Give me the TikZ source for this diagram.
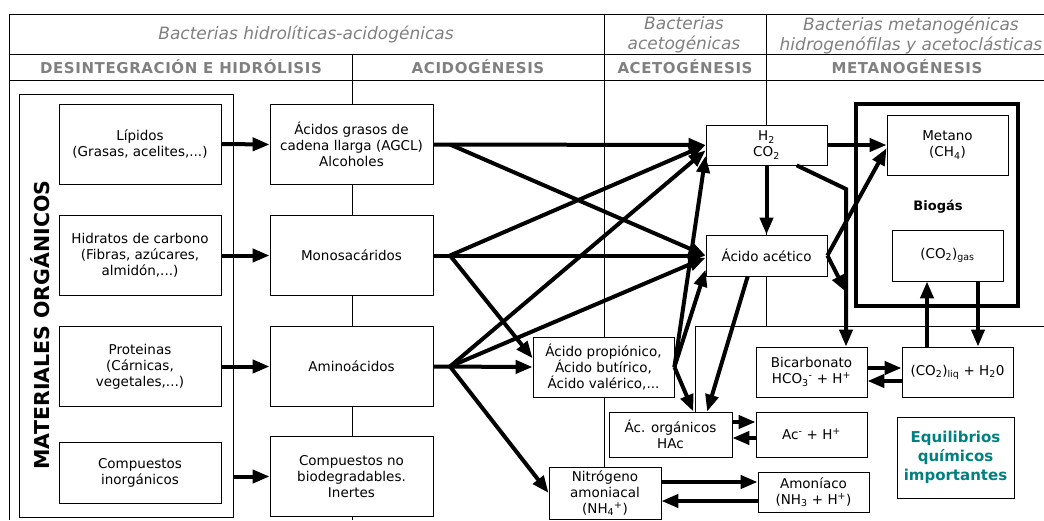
\documentclass[tikz,border=0pt]{standalone}
\usepackage{fontspec}
\setmainfont{DejaVu Sans}
\usetikzlibrary{arrows.meta}
\definecolor{hdrgray}{RGB}{128,128,128}
\definecolor{eqteal}{RGB}{0,128,128}
\tikzset{
  basic/.style = {draw, rectangle, fill=white, line width=0.8pt},
  box/.style = {basic, align=center, inner sep=2pt, font=\fontsize{13.5}{16}\selectfont},
  flow/.style = {line width=4pt, -{Triangle[length=17pt,width=13pt]}},
  grid/.style = {line width=0.9pt},
}

\begin{document}
\begin{tikzpicture}[
  x = 1pt, y = -1pt,
  bact/.style = {font=\fontsize{17}{20}\selectfont\itshape, text=hdrgray, align=center},
  phase/.style = {font=\fontsize{15}{17}\selectfont\bfseries\addfontfeatures{LetterSpace=4}, text=hdrgray},
  col1/.style = {box, minimum width=162pt, minimum height=80pt},
  col2/.style = {box, minimum width=163pt, minimum height=80pt},
 ]
 \useasboundingbox (0,0) rectangle (1044,520);

 % table lines
 \draw[grid] (1044,14) -- (9,14) -- (9,520);
 \draw[grid] (9,54) -- (1044,54);
 \draw[grid] (9,80) -- (1044,80);
 \draw[grid] (352,54) -- (352,520);
 \draw[grid] (604,14) -- (604,520);
 \draw[grid] (766,14) -- (766,326);
 \draw[grid] (1044,326) -- (695,326) -- (695,440);

 \node[bact] (hid-bact) at (306,34) {Bacterias hidrolíticas-acidogénicas};
 \node[bact] (ace-bact) at (684,35) {Bacterias\\acetogénicas};
 \node[bact] (met-bact) at (911,35) {Bacterias metanogénicas\\hidrogenófilas y acetoclásticas};
 \node[phase] (hid-phase) at (181,67) {DESINTEGRACIÓN E HIDRÓLISIS};
 \node[phase] (aci-phase) at (478,67) {ACIDOGÉNESIS};
 \node[phase] (ace-phase) at (685,67) {ACETOGÉNESIS};
 \node[phase] (met-phase) at (907,67) {METANOGÉNESIS};

 % materiales
 \node[basic, minimum width=214pt, minimum height=423pt] (mat) at (126,305.5) {};
 \node[rotate=90, font=\fontsize{20.5}{24}\selectfont\bfseries] (mat-label) at (40,325) {MATERIALES ORGÁNICOS};
 \node[col1] (lip) at (140,144) {Lípidos\\(Grasas, acelites,...)};
 \node[col1] (hid) at (140,255.5) {Hidratos de carbono\\(Fibras, azúcares,\\almidón,...)};
 \node[col1] (pro) at (140,366.5) {Proteinas\\(Cárnicas,\\vegetales,...)};
 \node[col1, minimum height=61pt] (inor) at (140,472.5) {Compuestos\\inorgánicos};

 \node[col2] (agcl) at (351.5,144.5) {Ácidos grasos de\\cadena llarga (AGCL)\\Alcoholes};
 \node[col2] (mono) at (351.5,255.5) {Monosacáridos};
 \node[col2] (amino) at (351.5,366.5) {Aminoácidos};
 \node[col2] (inert) at (351.5,476.5) {Compuestos no\\biodegradables.\\Inertes};

 \node[box, minimum width=141pt, minimum height=60pt] (prop) at (603.5,367) {Ácido propiónico,\\Ácido butírico,\\Ácido valérico,...};
 \node[box, minimum width=112pt, minimum height=52pt] (nitro) at (605,493) {Nitrógeno\\amoniacal\\(NH\textsubscript{4}\textsuperscript{+})};
 \node[box, minimum width=121pt, minimum height=40pt] (h2) at (766.5,145) {H\textsubscript{2}\\CO\textsubscript{2}};
 \node[box, minimum width=121pt, minimum height=41pt] (acet) at (766.5,255.5) {Ácido acético};

 % biogas
 \node[basic, line width=3.5pt, minimum width=162pt, minimum height=202pt] (biogas) at (937,205) {};
 \node[font=\fontsize{13}{15}\selectfont\bfseries] (biogas-label) at (938,207) {Biogás};
 \node[box, minimum width=121pt, minimum height=60pt] (met) at (947.5,145) {Metano\\(CH\textsubscript{4})};
 \node[box, minimum width=111pt, minimum height=51pt] (gas) at (947.5,255.5) {(CO\textsubscript{2})\textsubscript{gas}};

 % equilibrios
 \node[box, minimum width=111pt, minimum height=50pt] (bic) at (811.5,372) {Bicarbonato\\HCO\textsubscript{3}\textsuperscript{-} + H\textsuperscript{+}};
 \node[box, minimum width=111pt, minimum height=50pt] (liq) at (957.5,372) {(CO\textsubscript{2})\textsubscript{liq} + H\textsubscript{2}0};
 \node[box, minimum width=123pt, minimum height=45pt] (org) at (670.5,434.5) {Ác. orgánicos\\HAc};
 \node[box, minimum width=111pt, minimum height=45pt] (acm) at (811.5,434.5) {Ac\textsuperscript{-} + H\textsuperscript{+}};
 \node[box, minimum width=111pt, minimum height=40pt] (amon) at (813.5,492) {Amoníaco\\(NH\textsubscript{3} + H\textsuperscript{+})};
 \node[box, minimum width=117pt, minimum height=81pt, text=eqteal, font=\fontsize{15}{19}\selectfont\bfseries] (equi) at (955.5,457.5) {Equilibrios\\químicos\\importantes};

 % flows
 \coordinate (b1) at (450,144.5);
 \coordinate (b2) at (450,255.5);
 \coordinate (b3) at (450,366.5);
 \coordinate (k1) at (846,189);
 \coordinate (k2) at (846,292);
 \coordinate (u1) at (927,0);
 \coordinate (u2) at (978,0);

 \draw[flow] (lip.east) -- (agcl.west);
 \draw[flow] (hid.east) -- (mono.west);
 \draw[flow] (pro.east) -- (amino.west);
 \draw[flow] (mat.east |- inert.west) -- (inert.west);

 \draw[flow] (agcl.east) -- (h2.west);
 \draw[flow] (b1) -- (acet.west);
 \draw[flow] (mono.east) -- (acet.west);
 \draw[flow] (b2) -- (h2.west);
 \draw[flow] (b2) -- (prop.173);
 \draw[flow] (amino.east) -- (prop.west);
 \draw[flow] (b3) -- (h2.185);
 \draw[flow] (b3) -- (acet.182);
 \draw[flow] (b3) -- (nitro.west);
 \draw[flow] (prop.east) -- (h2.190);
 \draw[flow] (prop.east) -- (acet.193);
 \draw[flow] (prop.east) -- (org.45);
 \draw[flow] (acet.228) -- (org.32);

 \draw[flow] (h2.south) -- (acet.north);
 \draw[flow] (h2.east) -- (met.west);
 \draw[flow] (acet.east) -- (met.183);
 \draw[flow] (h2.326) -- (k1) -- (k1 |- bic.north);
 \draw[flow] (acet.east) -- (k2);
 \draw[flow] (liq.north -| u1) -- (gas.south -| u1);
 \draw[flow] (gas.south -| u2) -- (liq.north -| u2);

 \draw[flow] ([yshift=4pt]bic.east) -- ([yshift=4pt]bic.east -| liq.west);
 \draw[flow] ([yshift=-9pt]liq.west) -- ([yshift=-9pt]liq.west -| bic.east);
 \draw[flow] ([yshift=12.5pt]org.east) -- ([yshift=12.5pt]org.east -| acm.west);
 \draw[flow] ([yshift=-3.5pt]acm.west) -- ([yshift=-3.5pt]acm.west -| org.east);
 \draw[flow] ([yshift=11pt]nitro.east) -- ([yshift=11pt]nitro.east -| amon.west);
 \draw[flow] ([yshift=-9pt]amon.west) -- ([yshift=-9pt]amon.west -| nitro.east);

\end{tikzpicture}
\end{document}
